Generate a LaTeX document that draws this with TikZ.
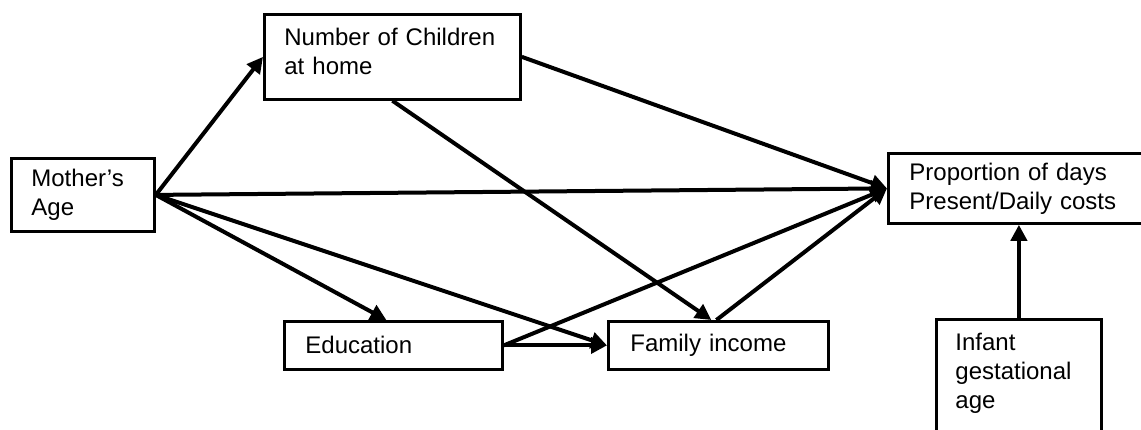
\documentclass[tikz,border=0pt]{standalone}
\usepackage{fontspec}
\setmainfont{Liberation Sans}
\usetikzlibrary{arrows.meta}
\begin{document}
\begin{tikzpicture}[x=1pt,y=-1pt,
  box/.style={draw=black, line width=2.8pt, anchor=north west, align=left,
    font=\fontsize{24}{29}\selectfont, inner ysep=0pt},
  arr/.style={line width=4pt, -{Triangle[length=16pt,width=16pt]}}]
\useasboundingbox (0,0) rectangle (1141,429);
\clip (0,0) rectangle (1141,429);
\fill[white] (0,0) rectangle (1141,429);

\node[box, inner xsep=20pt, text width=103pt, minimum height=73pt] (mother) at (10,157) {Mother’s\\Age};
\node[box, inner xsep=20pt, inner ysep=14pt, text width=216pt, text depth=39.5pt] (number) at (263,13) {Number of Children\\at home};
\node[box, inner xsep=21pt, text width=240pt, minimum height=70pt] (prop) at (887,152) {Proportion of days\\Present/Daily costs};
\node[box, inner xsep=21pt, text width=176pt, minimum height=48pt] (edu) at (283,320) {Education};
\node[box, inner xsep=22pt, text width=176pt, minimum height=48pt] (family) at (607,320) {Family income};
\node[box, inner xsep=19pt, inner ysep=14pt, text width=127pt, text depth=80pt] (infant) at (935,318) {Infant\\gestational\\age};

\draw[arr] (mother.east) -- (number.west);
\draw[arr] (mother.east) -- (prop.west);
\draw[arr] (mother.east) -- ([xshift=-7pt]edu.north);
\draw[arr] (mother.east) -- (family.west);
\draw[arr] (number.east) -- (prop.west);
\draw[arr] (number.south) -- ([xshift=-7pt]family.north);
\draw[arr] (edu.east) -- (family.west);
\draw[arr] (edu.east) -- (prop.west);
\draw[arr] ([xshift=-2pt]family.north) -- (prop.west);
\draw[arr] (infant.north) -- (infant.north |- prop.south);
\end{tikzpicture}
\end{document}
